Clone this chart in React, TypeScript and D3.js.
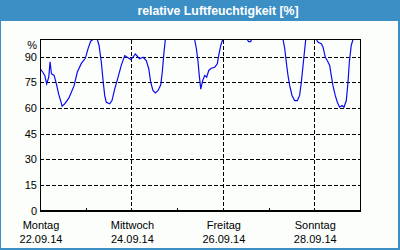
import React from 'react';
import { scaleLinear, scaleTime, line, timeDay } from 'd3';

// hours since Mon 22.09.14 00:00, relative humidity in %
const hours = [
  0, 1.4, 2.5, 3.5, 4.6, 5.3, 6, 7.4, 8.6, 9.8, 10.9, 11.6, 13, 15.1, 16.4, 17.9, 19.6, 21.7, 23.8,
  25.2, 26.6, 27.8, 30.1, 31, 32.2, 33.2, 34, 34.8, 36.6, 37.8, 39.2, 41, 42.7, 44.5, 45.8, 47.6,
  48.8, 50, 51.1, 52.3, 54.1, 55.8, 57.1, 58.1, 59.3, 60.5, 62, 63.4, 64.2, 65.1, 65.8, 81.2, 82.1,
  83, 83.6, 84.4, 85.4, 86.5, 87.5, 88.6, 89.9, 91.7, 93.1, 93.8, 94.9, 95.9, 108.8, 109.5, 110.6,
  111, 127.6, 128.5, 129.3, 130.2, 131.1, 132.3, 133.7, 135.1, 136.3, 137.2, 138.1, 139, 139.5,
  145.1, 146, 147.7, 148.6, 149.8, 150.8, 152.1, 152.9, 153.8, 155, 156.1, 157.3, 158.6, 159.6,
  160.8, 161.7, 162.4, 163.4, 164.3, 167.5
];
const humidity = [
  83, 81, 79, 74, 78, 87, 80, 79, 74, 68, 64, 61, 62.4, 65.7, 69, 73, 81, 86, 89,
  94.5, 99, 100, 100, 96.5, 86.7, 75, 67, 63.3, 62.4, 64.3, 71, 78, 85, 90.6, 89.6, 88.3,
  89.6, 91.6, 90.2, 88.7, 89.6, 87.7, 82.9, 75, 70.2, 68.8, 70.2, 73.5, 81, 92.6, 100, 100, 94.6,
  86.7, 79, 71, 76, 79, 78, 81.9, 83.2, 83.8, 85.8, 90.6, 96.5, 100, 100, 98.8, 98.8,
  100, 100, 94.6, 86.7, 79, 73, 67.3, 64.3, 64.3, 67.3, 75, 84.8, 94.6, 100,
  100, 98.4, 97.5, 95.5, 89.6, 87.7, 84.8, 79, 73, 67.3, 63.3, 60.4, 61.4, 60.4,
  64.3, 75, 86.7, 96.5, 100, 100
];
const yTicks = [0, 15, 30, 45, 60, 75, 90];
const dayNames = ['Sonntag', 'Montag', 'Dienstag', 'Mittwoch', 'Donnerstag', 'Freitag', 'Samstag'];
const title = 'relative Luftfeuchtigkeit [%]';

const start = new Date(2014, 8, 22);
const end = new Date(2014, 8, 29);

const W = 400;
const H = 250;
const left = 40;
const right = 360;
const top = 39.5;
const bottom = 210.5;

const pad = (n: number) => String(n).padStart(2, '0');

const App = () => {
  const x = scaleTime().domain([start, end]).range([left, right]);
  const y = scaleLinear().domain([0, 100]).range([bottom, top]);

  const points = hours.map((h, i) => ({ t: new Date(start.getTime() + h * 3600e3), v: humidity[i] }));
  const path = line<{ t: Date; v: number }>()
    .x(d => x(d.t))
    .y(d => y(d.v))(points);

  const days = timeDay.range(start, end).slice(1);
  const labelDays = timeDay.range(start, end).filter((_, i) => i % 2 === 0);

  const font = '"Liberation Sans", Arial, sans-serif';
  const blue = '#3c8fc5';

  return (
    <svg width={W} height={H} style={{ position: 'absolute', left: 0, top: 0, display: 'block' }}>
      <rect x={0} y={0} width={W} height={H} fill="#fbfefb" />
      <rect x={0} y={0} width={W} height={21} fill={blue} />
      <rect x={0} y={0} width={1} height={H} fill={blue} />
      <rect x={W - 2} y={0} width={2} height={H} fill={blue} />
      <rect x={0} y={H - 2} width={W} height={2} fill={blue} />
      <text x={218} y={15} textAnchor="middle" fill="#fff" fontFamily={font} fontWeight="bold" fontSize={12.3}>
        {title}
      </text>

      {/* grid */}
      <g stroke="#000" strokeWidth={1} strokeDasharray="4 2" shapeRendering="crispEdges">
        {yTicks.filter(v => v > 0).map(v => (
          <line key={v} x1={left} x2={right} y1={Math.round(y(v)) + 0.5} y2={Math.round(y(v)) + 0.5} />
        ))}
        {days.filter((_, i) => i % 2 === 1).map(d => (
          <line key={+d} x1={Math.round(x(d)) + 0.5} x2={Math.round(x(d)) + 0.5} y1={top} y2={bottom} />
        ))}
      </g>

      <defs>
        <clipPath id="plot">
          <rect x={left} y={top - 1} width={right - left} height={bottom - top + 1} />
        </clipPath>
      </defs>
      <path d={path ?? ''} fill="none" stroke="#0a0af0" strokeWidth={1.2} clipPath="url(#plot)" />

      {/* frame */}
      <rect x={left + 0.5} y={top} width={right - left} height={bottom - top} fill="none" stroke="#000" strokeWidth={1} shapeRendering="crispEdges" />
      <line x1={left} x2={right + 1} y1={bottom + 0.5} y2={bottom + 0.5} stroke="#000" strokeWidth={1.5} shapeRendering="crispEdges" />
      {days.filter((_, i) => i % 2 === 0).map(d => (
        <line key={+d} x1={Math.round(x(d)) + 0.5} x2={Math.round(x(d)) + 0.5} y1={bottom - 3} y2={bottom} stroke="#000" shapeRendering="crispEdges" />
      ))}

      {/* y labels */}
      <g fontFamily={font} fontSize={11} fill="#000" textAnchor="end">
        {yTicks.map(v => (
          <text key={v} x={37} y={y(v) + 4}>{v}</text>
        ))}
        <text x={37} y={49}>%</text>
      </g>

      {/* x labels */}
      <g fontFamily={font} fontSize={11} fill="#000" textAnchor="middle">
        {labelDays.map(d => (
          <g key={+d}>
            <text x={x(d) + 1} y={229}>{dayNames[d.getDay()]}</text>
            <text x={x(d) + 1} y={243}>{`${pad(d.getDate())}.${pad(d.getMonth() + 1)}.${pad(d.getFullYear() % 100)}`}</text>
          </g>
        ))}
      </g>
    </svg>
  );
};

export default App;
